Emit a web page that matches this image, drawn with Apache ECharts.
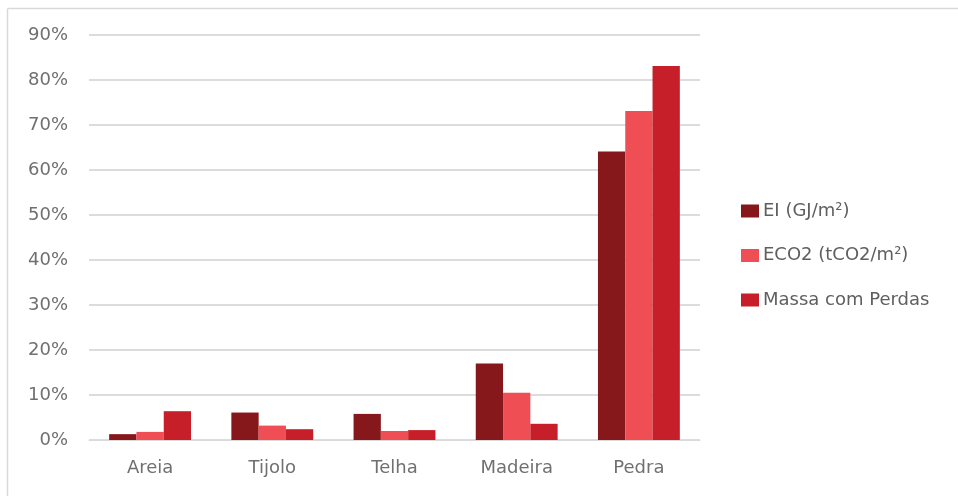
<!DOCTYPE html>
<html>
<head>
<meta charset="utf-8">
<script src="https://cdn.jsdelivr.net/npm/echarts@6/dist/echarts.min.js"></script>
<style>
  html, body { margin: 0; padding: 0; background: #fff; }
  #chart { width: 958px; height: 496px; }
</style>
</head>
<body>
<div id="chart"></div>
<script>
// Materials on the x axis
const categories = ['Areia', 'Tijolo', 'Telha', 'Madeira', 'Pedra'];

// Share of each indicator per material (%)
const eiValues = [1.3, 6.1, 5.8, 17.0, 64.1];
const eco2Values = [1.8, 3.2, 2.0, 10.5, 73.1];
const massaValues = [6.4, 2.4, 2.2, 3.6, 83.1];

const seriesNames = ['EI (GJ/m²)', 'ECO2 (tCO2/m²)', 'Massa com Perdas'];
const seriesColors = ['#86171b', '#ef4e54', '#c71f29'];

// Y axis ticks: 0% to 90% in steps of 10
const yMin = 0, yMax = 90, yStep = 10;

const textColor = '#707070';
const fontFamily = '"DejaVu Sans", sans-serif';

const chart = echarts.init(document.getElementById('chart'), null, { renderer: 'canvas' });

const allValues = [eiValues, eco2Values, massaValues];

chart.setOption({
  animation: false,
  backgroundColor: '#ffffff',
  textStyle: { fontFamily: fontFamily },
  graphic: [
    { type: 'line', shape: { x1: 7.5, y1: 8.5, x2: 958, y2: 8.5 }, style: { stroke: '#d9d9d9', lineWidth: 1.5 } },
    { type: 'line', shape: { x1: 7.5, y1: 8.5, x2: 7.5, y2: 496 }, style: { stroke: '#d9d9d9', lineWidth: 1.5 } }
  ],
  grid: { left: 89, right: 258, top: 35, bottom: 56, containLabel: false },
  legend: {
    orient: 'vertical',
    left: 741,
    top: 202,
    padding: 0,
    itemWidth: 18,
    itemHeight: 13,
    itemGap: 26.5,
    icon: 'rect',
    textStyle: { color: '#5f5f5f', fontSize: 18, fontFamily: fontFamily, padding: [0, 0, 0, -1] },
    data: seriesNames
  },
  xAxis: {
    type: 'category',
    data: categories,
    axisLine: { show: true, lineStyle: { color: '#d9d9d9', width: 1 } },
    axisTick: { show: false },
    axisLabel: { color: textColor, fontSize: 18, margin: 19, fontFamily: fontFamily }
  },
  yAxis: {
    type: 'value',
    min: yMin,
    max: yMax,
    interval: yStep,
    axisLine: { show: false },
    axisTick: { show: false },
    axisLabel: { color: textColor, fontSize: 18, margin: 21, formatter: v => v + '%', fontFamily: fontFamily },
    splitLine: { lineStyle: { color: '#d0d0d0', width: 1.5 } }
  },
  series: seriesNames.map((name, i) => ({
    name: name,
    type: 'bar',
    data: allValues[i],
    barGap: '0%',
    barCategoryGap: '33%',
    itemStyle: { color: seriesColors[i] }
  }))
});
</script>
</body>
</html>
